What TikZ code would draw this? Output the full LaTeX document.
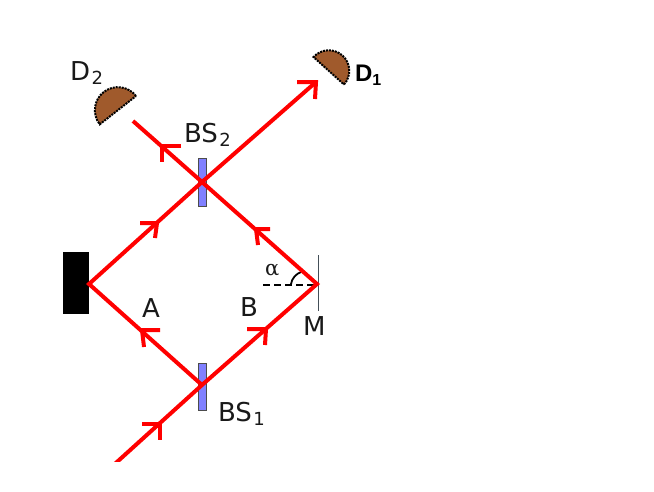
\documentclass[tikz,border=0pt]{standalone}
\usepackage{fontspec}
\setmainfont{DejaVu Sans}
\newfontfamily\labelserif{DejaVu Serif}
\newfontfamily\boldlabel{Liberation Sans}
\newcommand{\lab}[2]{{\fontsize{26}{26}\selectfont #1\kern1.5pt\raisebox{-4pt}{\fontsize{18}{18}\selectfont #2}}}
\definecolor{brown1}{HTML}{A05A2C}
\tikzset{
  beam/.style={draw=red,line width=4pt,line join=miter},
  headmark/.style={draw=red,line width=4pt,line join=miter,line cap=butt},
  splitter/.style={draw=black!70,line width=1pt,fill=blue!50!white},
  detector/.style={draw=black,fill=brown1,line width=2pt,densely dotted},
  lbl/.style={anchor=base west,inner sep=0pt,outer sep=0pt,text=black!90}
}
\begin{document}
\begin{tikzpicture}[x=1pt,y=-1pt]
\useasboundingbox (0,0) rectangle (654,491);
% coordinates
\coordinate (in) at (107,471);
\coordinate (bs1) at (202,385);
\coordinate (src) at (89,284);
\coordinate (mir) at (317,284);
\coordinate (bs2) at (202,182);
\coordinate (d1end) at (316,82);
\coordinate (d2end) at (133,121);
% source block
\node[fill=black,minimum width=26pt,minimum height=62pt,inner sep=0pt,anchor=north west] (block) at (63,252) {};
% beam splitters
\node[splitter,minimum width=8pt,minimum height=47pt,inner sep=0pt] (split1) at (202.5,386.5) {};
\node[splitter,minimum width=8pt,minimum height=48pt,inner sep=0pt] (split2) at (202.5,182.5) {};
% mirror
\coordinate (mtop) at (318,255);
\coordinate (mbot) at (318,311);
\draw[draw=black!75!cyan,line width=1pt] (mtop) -- (mbot);
% angle
\coordinate (dashl) at (263,285);
\draw[black,line width=1.3pt,dash pattern=on 7pt off 4pt] (dashl) -- (mir |- dashl);
\draw[black,line width=1.8pt] (291,284) .. controls (292,278) and (296,274) .. (301,272);
% beams
\begin{scope}
\clip (0,0) rectangle (654,461);
\draw[beam] (in) -- (bs1) -- (mir) -- (bs2) -- (d2end);
\end{scope}
\draw[beam] (bs1) -- (src) -- (bs2) -- (d1end);
% arrow heads
\draw[headmark] (142,424) -- (160,424) -- (160,440);
\draw[headmark] (247,329) -- (266,329) -- (265,345);
\draw[headmark] (160,330) -- (142,330) -- (144,347);
\draw[headmark] (140,223) -- (157,223) -- (155,238);
\draw[headmark] (270,229) -- (256,229) -- (258,245);
\draw[headmark] (181,146) -- (162,146) -- (162,162);
\draw[headmark] (297,82) -- (316,82) -- (315,99);
% detectors
\path[detector] (136,96) arc[start angle=-38,end angle=-218,radius=23] -- cycle;
\path[detector] (344,84.5) arc[start angle=42,end angle=-138,radius=20.5] -- cycle;
% labels
\node[lbl] (d2) at (70,80) {\lab{D}{2}};
\node[lbl] (bstwo) at (184,142) {\lab{BS}{2}};
\node[lbl] (bsone) at (218,421) {\lab{BS}{1}};
\node[lbl] (a) at (142,317) {\fontsize{26}{26}\selectfont A};
\node[lbl] (b) at (240,316) {\fontsize{26}{26}\selectfont B};
\node[lbl] (m) at (303,335) {\fontsize{26}{26}\selectfont M};
\node[lbl] (al) at (265,275) {\labelserif\fontsize{21}{21}\selectfont α};
\node[lbl,text=black] (d1) at (355,81) {\boldlabel\bfseries\fontsize{24}{24}\selectfont D\raisebox{-4pt}{\fontsize{16}{16}\selectfont 1}};
\end{tikzpicture}
\end{document}
